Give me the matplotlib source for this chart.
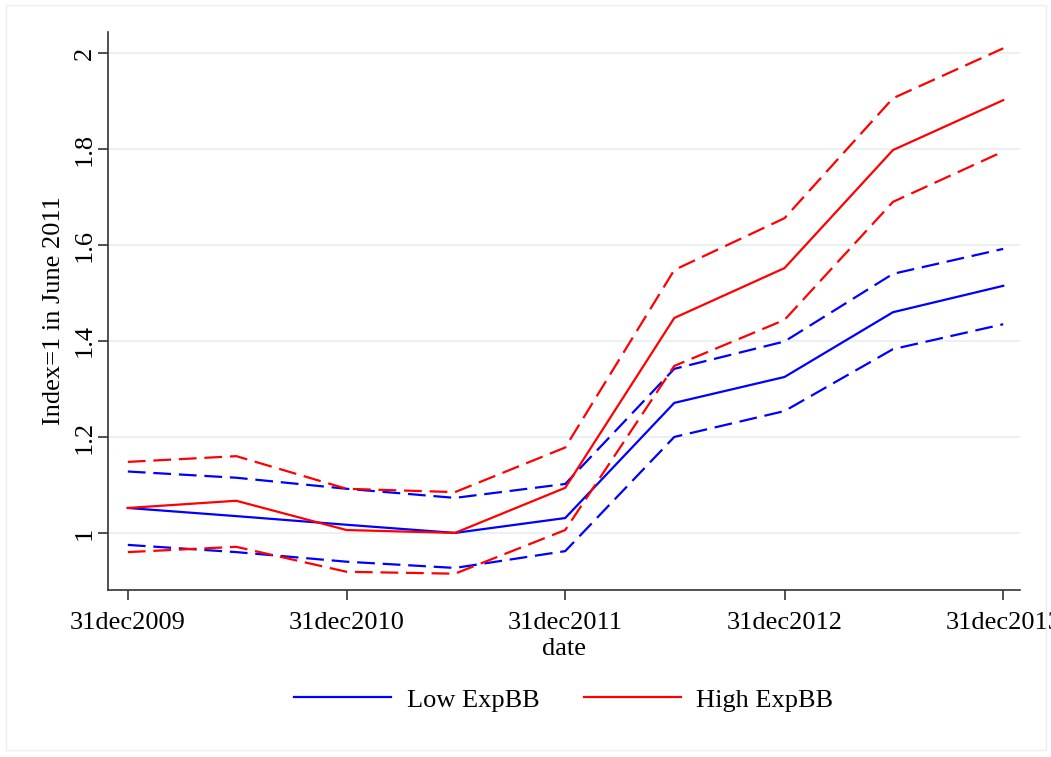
import numpy as np
import matplotlib.pyplot as plt
import matplotlib.dates as mdates
from matplotlib.patches import Rectangle

# half-yearly observation dates
dates = np.array(['2009-12-31', '2010-06-30', '2010-12-31', '2011-06-30', '2011-12-31',
                  '2012-06-30', '2012-12-31', '2013-06-30', '2013-12-31'], dtype='datetime64[D]')

low_mid = [1.052, 1.035, 1.017, 1.000, 1.031, 1.271, 1.325, 1.460, 1.515]
low_hi  = [1.128, 1.115, 1.092, 1.073, 1.102, 1.342, 1.399, 1.540, 1.592]
low_lo  = [0.975, 0.960, 0.940, 0.927, 0.962, 1.200, 1.254, 1.383, 1.435]

high_mid = [1.052, 1.067, 1.006, 1.000, 1.094, 1.448, 1.552, 1.798, 1.902]
high_hi  = [1.148, 1.160, 1.092, 1.085, 1.178, 1.548, 1.656, 1.906, 2.010]
high_lo  = [0.960, 0.971, 0.919, 0.915, 1.006, 1.348, 1.444, 1.690, 1.795]

yticks = [1, 1.2, 1.4, 1.6, 1.8, 2]
xticks = np.array(['2009-12-31', '2010-12-31', '2011-12-31', '2012-12-31', '2013-12-31'],
                  dtype='datetime64[D]')

plt.rcParams['font.family'] = ['Liberation Serif', 'DejaVu Serif']
fs = 19

fig = plt.figure(figsize=(10.51, 7.57), dpi=100)
fig.patches.append(Rectangle((0.006, 0.009), 0.989, 0.985, transform=fig.transFigure,
                             fill=False, edgecolor='#eeeeee', linewidth=1))
ax = fig.add_axes([0.1028, 0.2206, 0.8677, 0.7371])

dash = (0, (8, 3.5))
lw = 1.6
ax.plot(dates, low_mid, color='#0000ff', lw=lw, label='Low ExpBB')
ax.plot(dates, low_hi, color='#0000ff', lw=lw, linestyle=dash)
ax.plot(dates, low_lo, color='#0000ff', lw=lw, linestyle=dash)
ax.plot(dates, high_mid, color='#ff0000', lw=lw, label='High ExpBB')
ax.plot(dates, high_hi, color='#ff0000', lw=lw, linestyle=dash)
ax.plot(dates, high_lo, color='#ff0000', lw=lw, linestyle=dash)

ax.set_xlim(dates[0] - np.timedelta64(33, 'D'), dates[-1] + np.timedelta64(28, 'D'))
ax.set_ylim(0.881, 2.044)

ax.set_yticks(yticks)
ax.set_yticklabels(['1', '1.2', '1.4', '1.6', '1.8', '2'], rotation=90, va='center')
ax.set_xticks(xticks)
ax.xaxis.set_major_formatter(mdates.DateFormatter('%d%b%Y'))
ax.set_xticklabels([d.item().strftime('%d%b%Y').lower() for d in xticks])

ax.grid(axis='y', color='#e8eff1', linewidth=1.2)
ax.set_axisbelow(True)
for s in ['top', 'right']:
    ax.spines[s].set_visible(False)
for s in ['left', 'bottom']:
    ax.spines[s].set_color('#333333')
    ax.spines[s].set_linewidth(1.2)
ax.tick_params(labelsize=fs, length=7, width=1.2, color='#333333')
ax.tick_params(axis='y', pad=2)
ax.tick_params(axis='x', pad=9)

ax.set_ylabel('Index=1 in June 2011', fontsize=fs, labelpad=6)
ax.set_xlabel('date', fontsize=fs, labelpad=3)

fig.legend(loc='center', bbox_to_anchor=(0.5366, 0.0753), ncol=2, frameon=False,
           fontsize=fs, handlelength=3.67, handletextpad=0.6, columnspacing=1.67)

fig.savefig('out.png', dpi=100)
